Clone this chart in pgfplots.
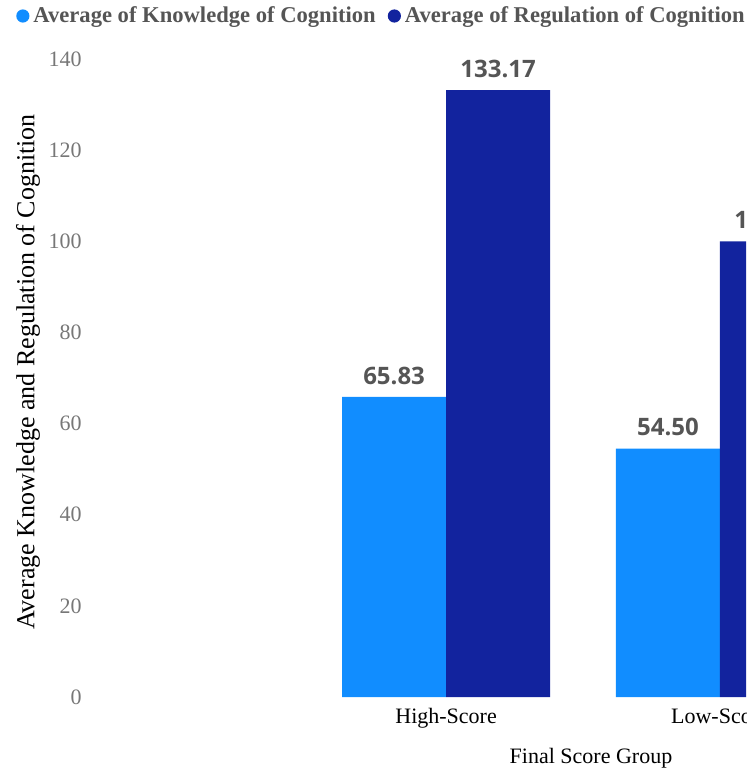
\documentclass[border=0pt]{standalone}
\usepackage{pgfplots}
\pgfplotsset{compat=1.18}
\usepackage{fontspec}
\setmainfont{Liberation Serif}
\newfontfamily\labelsans{Open Sans}
\definecolor{kc}{HTML}{118DFF}
\definecolor{rc}{HTML}{12239E}
\definecolor{tickgray}{HTML}{777777}
\definecolor{labgray}{HTML}{555555}

\begin{document}
\begin{tikzpicture}
% page frame: the chart is cut at its right edge
\useasboundingbox (-45pt,-36pt) rectangle (328pt,348.5pt);
\begin{scope}
\clip (-45pt,-36pt) rectangle (328pt,348.5pt);
\begin{axis}[
  at={(0,0)}, anchor=south west,
  width=328pt, height=319pt, scale only axis,
  ymin=0, ymax=140, xmin=-1.30, xmax=1.095,
  ybar=0pt, bar width=52pt,
  axis line style={draw=none}, major tick length=0pt,
  xtick={0,1}, xticklabels={High-Score,Low-Score},
  ytick={0,20,...,140},
  /pgf/number format/assume math mode=true,
  xticklabel style={anchor=base, yshift=-13pt, font=\fontsize{11}{13}\selectfont, text=black},
  yticklabel style={anchor=east, inner sep=0pt, xshift=-4pt, font=\fontsize{11}{13}\selectfont, text=tickgray},
  xlabel={Final Score Group},
  ylabel={Average Knowledge and Regulation of Cognition},
  x label style={at={(axis description cs:0.7637,0)}, anchor=base, yshift=-33pt, font=\fontsize{11}{13}\selectfont},
  y label style={at={(axis description cs:-0.0945,0.5094)}, anchor=center, font=\fontsize{13}{15}\selectfont},
  nodes near coords,
  point meta=y,
  nodes near coords style={
    /pgf/number format/fixed, /pgf/number format/fixed zerofill,
    /pgf/number format/precision=2,
    /pgf/number format/assume math mode=true,
    anchor=south, inner sep=0pt, yshift=6pt,
    font=\labelsans\bfseries\fontsize{12}{14}\selectfont, text=labgray},
  legend columns=2,
  legend style={at={(axis description cs:-0.113,1.0674)}, anchor=west,
    draw=none, fill=none, inner sep=0pt,
    font=\bfseries\fontsize{11.3}{13}\selectfont, text=labgray,
    /tikz/every even column/.append style={column sep=4pt}},
  legend image code/.code={\fill[#1] (0.12cm,0) circle (3.3pt);},
]
\addplot[fill=kc, draw=none] coordinates {(0,65.83) (1,54.50)};
\addplot[fill=rc, draw=none] coordinates {(0,133.17) (1,100.00)};
\legend{Average of Knowledge of Cognition, Average of Regulation of Cognition}
\end{axis}
\end{scope}
\end{tikzpicture}
\end{document}
